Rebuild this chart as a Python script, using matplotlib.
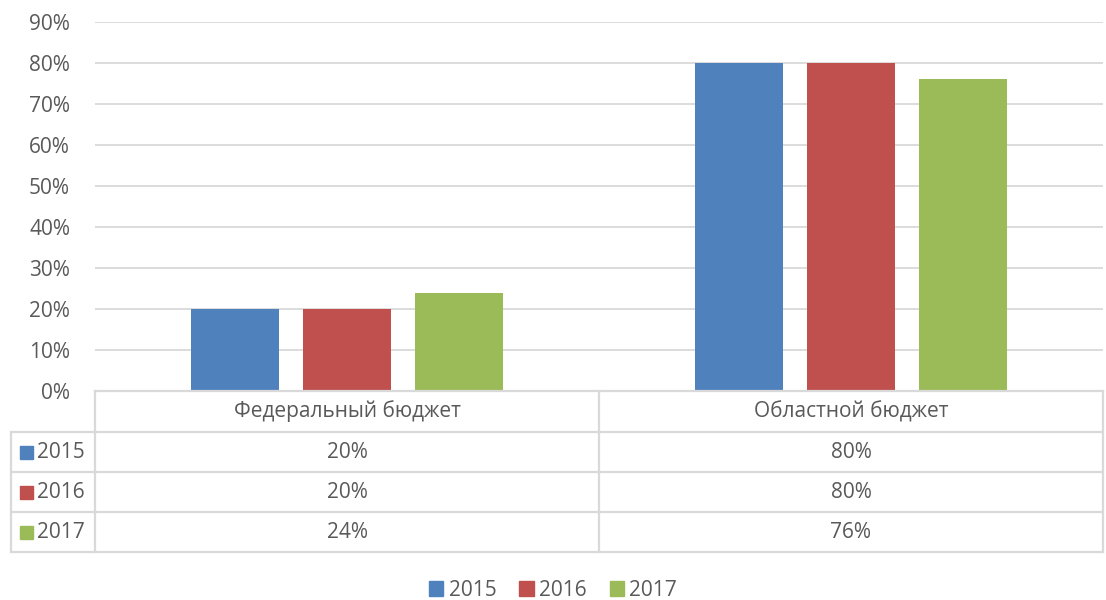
import matplotlib
matplotlib.use("Agg")
import matplotlib.pyplot as plt
from matplotlib.patches import Rectangle
from matplotlib.lines import Line2D

categories = ["Федеральный бюджет", "Областной бюджет"]
series_names = ["2015", "2016", "2017"]
values_2015 = [20, 80]
values_2016 = [20, 80]
values_2017 = [24, 76]
series_values = [values_2015, values_2016, values_2017]
colors = ["#4F81BD", "#C0504D", "#9BBB59"]
yticks = [0, 10, 20, 30, 40, 50, 60, 70, 80, 90]

W, H = 1106, 600
plt.rcParams['font.family'] = ['Open Sans', 'DejaVu Sans']
fig = plt.figure(figsize=(W / 100, H / 100), dpi=100)

def fx(px):
    return px / W

def fy(py):
    return 1 - py / H

TXT = "#595959"
GRID = "#d9d9d9"
FS = 15

ax_l, ax_r, ax_t, ax_b = 95, 1103, 22, 391
ax = fig.add_axes([fx(ax_l), fy(ax_b), fx(ax_r - ax_l), (ax_b - ax_t) / H])

n = len(series_names)
cat_px = (ax_r - ax_l) / len(categories)
bw = 88 / cat_px
step = 112 / cat_px
for i, (name, vals, c) in enumerate(zip(series_names, series_values, colors)):
    xs = [j + (i - (n - 1) / 2) * step for j in range(len(categories))]
    ax.bar(xs, vals, width=bw, color=c, zorder=3)

ax.set_xlim(-0.5, len(categories) - 0.5)
ax.set_ylim(0, 90)
ax.set_yticks(yticks)
ax.set_yticklabels([f"{v}%" for v in yticks], color=TXT, fontsize=FS)
ax.tick_params(axis='y', length=0, pad=18)
ax.set_xticks([])
for s in ax.spines.values():
    s.set_visible(False)
ax.yaxis.grid(True, color=GRID, linewidth=1.3, zorder=0)

# Data table
tbl_left = 11
col_edges = [ax_l, ax_l + cat_px, ax_r]
row_edges = [391, 432, 472, 512, 552]

def hline(x0, x1, y):
    fig.add_artist(Line2D([fx(x0), fx(x1)], [fy(y), fy(y)], color=GRID, linewidth=1.6))

def vline(x, y0, y1):
    fig.add_artist(Line2D([fx(x), fx(x)], [fy(y0), fy(y1)], color=GRID, linewidth=1.6))

hline(ax_l, ax_r, row_edges[0])
for y in row_edges[1:]:
    hline(tbl_left, ax_r, y)
vline(tbl_left, row_edges[1], row_edges[-1])
for x in col_edges:
    vline(x, row_edges[0], row_edges[-1])

for j, cat in enumerate(categories):
    cx = (col_edges[j] + col_edges[j + 1]) / 2
    cy = (row_edges[0] + row_edges[1]) / 2
    fig.text(fx(cx), fy(cy), cat, ha='center', va='center', color=TXT, fontsize=FS)

for i, (name, vals, c) in enumerate(zip(series_names, series_values, colors)):
    cy = (row_edges[i + 1] + row_edges[i + 2]) / 2
    fig.add_artist(Rectangle((fx(20), fy(cy + 7)), fx(13), 13 / H, color=c,
                             transform=fig.transFigure))
    fig.text(fx(37), fy(cy), name, ha='left', va='center', color=TXT, fontsize=FS)
    for j, v in enumerate(vals):
        cx = (col_edges[j] + col_edges[j + 1]) / 2
        fig.text(fx(cx), fy(cy), f"{v}%", ha='center', va='center', color=TXT, fontsize=FS)

# Legend
handles = [Rectangle((0, 0), 1, 1, color=c) for c in colors]
fig.legend(handles, series_names, loc='center', bbox_to_anchor=(fx(553), fy(590)),
           ncol=3, frameon=False, fontsize=FS, labelcolor=TXT,
           handlelength=0.7, handleheight=0.7, handletextpad=0.25, columnspacing=1.1)

fig.savefig("out.png", dpi=100)
